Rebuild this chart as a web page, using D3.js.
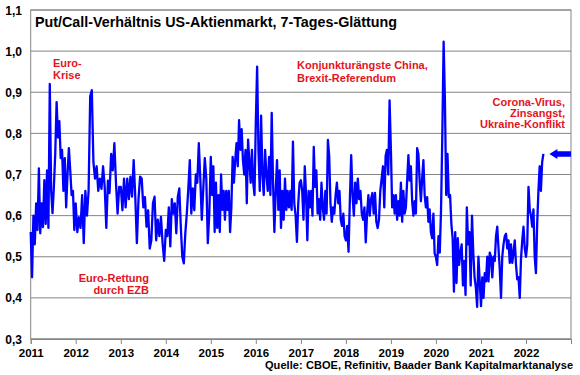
<!DOCTYPE html>
<html>
<head>
<meta charset="utf-8">
<script src="https://cdn.jsdelivr.net/npm/d3@7"></script>
<style>
  body { margin: 0; background: #fff; }
  svg text { font-family: "Liberation Sans", Arial, sans-serif; font-weight: bold; }
</style>
</head>
<body>
<div id="chart"></div>
<script>
// Put/Call ratio, values, one array per year
var v2011 = [0.56, 0.45, 0.60, 0.53, 0.63, 0.565, 0.715, 0.557, 0.63, 0.572, 0.686, 0.58, 0.71, 0.57, 0.92, 0.66, 0.606, 0.67, 0.75, 0.876, 0.79, 0.83, 0.74, 0.76, 0.66, 0.74, 0.62, 0.70, 0.764, 0.71, 0.65, 0.66, 0.565];
var v2012 = [0.63, 0.56, 0.596, 0.57, 0.65, 0.533, 0.66, 0.60, 0.66, 0.89, 0.905, 0.73, 0.69, 0.72, 0.66, 0.69, 0.665, 0.72, 0.67, 0.57, 0.685, 0.655, 0.75, 0.71, 0.776, 0.68, 0.605, 0.67];
var v2013 = [0.67, 0.613, 0.69, 0.62, 0.69, 0.64, 0.695, 0.646, 0.735, 0.646, 0.533, 0.64, 0.695, 0.69, 0.62, 0.645, 0.573, 0.613, 0.52, 0.54, 0.63, 0.646, 0.54, 0.59, 0.55, 0.597, 0.533, 0.49];
var v2014 = [0.565, 0.55, 0.62, 0.525, 0.64, 0.605, 0.63, 0.557, 0.646, 0.666, 0.573, 0.50, 0.484, 0.557, 0.605, 0.666, 0.735, 0.605, 0.666, 0.613, 0.70, 0.68, 0.776, 0.69, 0.59, 0.666, 0.74, 0.69, 0.533, 0.605];
var v2015 = [0.743, 0.65, 0.72, 0.56, 0.68, 0.57, 0.65, 0.56, 0.70, 0.614, 0.66, 0.59, 0.66, 0.614, 0.66, 0.56, 0.62, 0.743, 0.68, 0.735, 0.776, 0.72, 0.832, 0.76, 0.81, 0.735, 0.70, 0.76, 0.63, 0.785, 0.73, 0.68, 0.76, 0.68, 0.65];
var v2016 = [0.825, 0.962, 0.76, 0.66, 0.843, 0.70, 0.65, 0.76, 0.70, 0.66, 0.743, 0.65, 0.85, 0.68, 0.56, 0.66, 0.735, 0.614, 0.71, 0.57, 0.66, 0.59, 0.69, 0.614, 0.66, 0.62, 0.66, 0.614, 0.78, 0.63, 0.60, 0.536, 0.63, 0.68];
var v2017 = [0.686, 0.66, 0.59, 0.72, 0.65, 0.54, 0.66, 0.62, 0.66, 0.60, 0.767, 0.67, 0.71, 0.605, 0.64, 0.59, 0.68, 0.62, 0.59, 0.66, 0.605, 0.784, 0.745, 0.63, 0.585, 0.62, 0.605, 0.65, 0.68, 0.63, 0.66, 0.59, 0.575, 0.605, 0.55];
var v2018 = [0.54, 0.575, 0.512, 0.64, 0.747, 0.65, 0.60, 0.68, 0.63, 0.69, 0.64, 0.66, 0.605, 0.59, 0.62, 0.535, 0.605, 0.65, 0.60, 0.64, 0.655, 0.605, 0.655, 0.585, 0.57, 0.59, 0.66, 0.69, 0.72, 0.62, 0.745, 0.76, 0.70, 0.88];
var v2019 = [0.76, 0.62, 0.65, 0.605, 0.65, 0.59, 0.635, 0.60, 0.68, 0.585, 0.66, 0.605, 0.62, 0.685, 0.747, 0.685, 0.72, 0.635, 0.60, 0.635, 0.605, 0.764, 0.75, 0.685, 0.635, 0.69, 0.735, 0.65, 0.62, 0.645, 0.585, 0.615, 0.56, 0.545, 0.605, 0.508];
var v2020 = [0.50, 0.48, 0.55, 0.51, 0.615, 0.80, 1.023, 0.88, 0.65, 0.75, 0.645, 0.65, 0.58, 0.545, 0.415, 0.56, 0.436, 0.545, 0.48, 0.51, 0.53, 0.43, 0.49, 0.407, 0.62, 0.53, 0.56, 0.43, 0.60, 0.51, 0.45, 0.425, 0.378, 0.50, 0.44];
var v2021 = [0.38, 0.45, 0.40, 0.46, 0.44, 0.50, 0.44, 0.51, 0.50, 0.45, 0.50, 0.49, 0.55, 0.573, 0.52, 0.47, 0.40, 0.50, 0.53, 0.55, 0.556, 0.52, 0.54, 0.485, 0.53, 0.485, 0.51, 0.54, 0.48, 0.445, 0.45, 0.40, 0.495, 0.54, 0.573, 0.52];
var v2022 = [0.50, 0.53, 0.67, 0.615, 0.60, 0.573, 0.615, 0.50, 0.46, 0.58, 0.66, 0.72, 0.66, 0.73, 0.75];
var lastDate = "2022-05-22";

var yearList = [2011, 2012, 2013, 2014, 2015, 2016, 2017, 2018, 2019, 2020, 2021, 2022];
var yearValues = [v2011, v2012, v2013, v2014, v2015, v2016, v2017, v2018, v2019, v2020, v2021, v2022];

var yTicks = [0.3, 0.4, 0.5, 0.6, 0.7, 0.8, 0.9, 1.0, 1.1];
var xTickYears = [2011, 2012, 2013, 2014, 2015, 2016, 2017, 2018, 2019, 2020, 2021, 2022, 2023];

var title = "Put/Call-Verhältnis US-Aktienmarkt, 7-Tages-Glättung";
var source = "Quelle: CBOE, Refinitiv, Baader Bank Kapitalmarktanalyse";

var color_line = "#0000ff";
var color_note = "#e3141e";
var color_grid = "#858585";

var width = 580, height = 375;
var margin = {left: 30.7, right: 9, top: 10, bottom: 36};

// build dated points: each year spread evenly, the last one ends at lastDate
var points = [];
yearValues.forEach((arr, k) => {
    let y0 = new Date(yearList[k], 0, 1);
    let y1 = (k == yearValues.length - 1) ? new Date(lastDate) : new Date(yearList[k] + 1, 0, 1);
    let n = (k == yearValues.length - 1) ? arr.length - 1 : arr.length;
    arr.forEach((v, i) => {
        points.push({date: new Date(+y0 + (y1 - y0) * i / n), value: v});
    });
});

var svg = d3.select("#chart")
    .append("svg")
    .attr("width", width)
    .attr("height", height);

var x = d3.scaleTime()
    .domain([new Date(2011, 0, 1), new Date(2023, 0, 1)])
    .range([margin.left, width - margin.right]);
var y = d3.scaleLinear()
    .domain([0.3, 1.1])
    .range([height - margin.bottom, margin.top]);

//grid lines
svg.selectAll("line.grid")
    .data(yTicks)
    .enter()
    .append("line")
    .classed("grid", true)
    .attr("x1", x.range()[0])
    .attr("x2", x.range()[1])
    .attr("y1", d => y(d))
    .attr("y2", d => y(d))
    .style("stroke", color_grid)
    .style("stroke-width", 1);

//frame
svg.append("rect")
    .attr("x", x.range()[0])
    .attr("y", y.range()[1])
    .attr("width", x.range()[1] - x.range()[0])
    .attr("height", y.range()[0] - y.range()[1])
    .style("fill", "none")
    .style("stroke", color_grid)
    .style("stroke-width", 1);

//y labels
svg.selectAll("text.ylab")
    .data(yTicks)
    .enter()
    .append("text")
    .classed("ylab", true)
    .attr("x", 22)
    .attr("y", d => y(d) + 4.5)
    .attr("text-anchor", "end")
    .style("font-size", "12px")
    .text(d => d3.format(".1f")(d).replace(".", ","));

//x axis
var xAxis = d3.axisBottom(x)
    .tickValues(xTickYears.map(yr => new Date(yr, 0, 1)))
    .tickSize(5)
    .tickFormat(d => d.getFullYear() < 2023 ? d.getFullYear() : "");
var gx = svg.append("g")
    .attr("transform", "translate(0," + y(0.3) + ")")
    .call(xAxis);
gx.select(".domain").style("stroke", color_grid);
gx.selectAll(".tick line").style("stroke", color_grid);
gx.selectAll(".tick text")
    .attr("y", 10)
    .style("font-size", "11.5px")
    .style("font-family", "'Liberation Sans', Arial, sans-serif")
    .style("font-weight", "bold")
    .style("fill", "#000");

//the series
var line = d3.line()
    .x(d => x(d.date))
    .y(d => y(d.value));
svg.append("path")
    .datum(points)
    .attr("d", line)
    .style("fill", "none")
    .style("stroke", color_line)
    .style("stroke-width", 2.3)
    .style("stroke-linejoin", "round");

//arrow pointing at the last value
var last = points[points.length - 1];
var ax = x(last.date) + 6, ay = y(last.value);
var arrowEnd = x.range()[1];
svg.append("path")
    .attr("d", "M" + ax + "," + ay +
        "L" + (ax + 8) + "," + (ay - 5) +
        "L" + (ax + 8) + "," + (ay - 2.8) +
        "L" + arrowEnd + "," + (ay - 2.8) +
        "L" + arrowEnd + "," + (ay + 2.8) +
        "L" + (ax + 8) + "," + (ay + 2.8) +
        "L" + (ax + 8) + "," + (ay + 5) + "Z")
    .style("fill", color_line);

//title and source
svg.append("text")
    .attr("x", 35)
    .attr("y", 27)
    .style("font-size", "14.3px")
    .text(title);
svg.append("text")
    .attr("x", 573)
    .attr("y", 369)
    .attr("text-anchor", "end")
    .attr("textLength", 308)
    .style("font-size", "11px")
    .text(source);

//annotations
var notes = [
    {lines: ["Euro-", "Krise"], x: 53, y: 67, anchor: "start", step: 12},
    {lines: ["Euro-Rettung", "durch EZB"], x: 149, y: 282, anchor: "end", step: 12},
    {lines: ["Konjunkturängste China,", "Brexit-Referendum"], x: 297, y: 69, anchor: "start", step: 12.5},
    {lines: ["Corona-Virus,", "Zinsangst,", "Ukraine-Konflikt"], x: 565, y: 106, anchor: "end", step: 11}
];
notes.forEach(n => {
    let t = svg.append("text")
        .attr("text-anchor", n.anchor)
        .style("font-size", "11px")
        .style("fill", color_note);
    n.lines.forEach((l, i) => {
        t.append("tspan")
            .attr("x", n.x)
            .attr("y", n.y + i * n.step)
            .text(l);
    });
});
</script>
</body>
</html>
